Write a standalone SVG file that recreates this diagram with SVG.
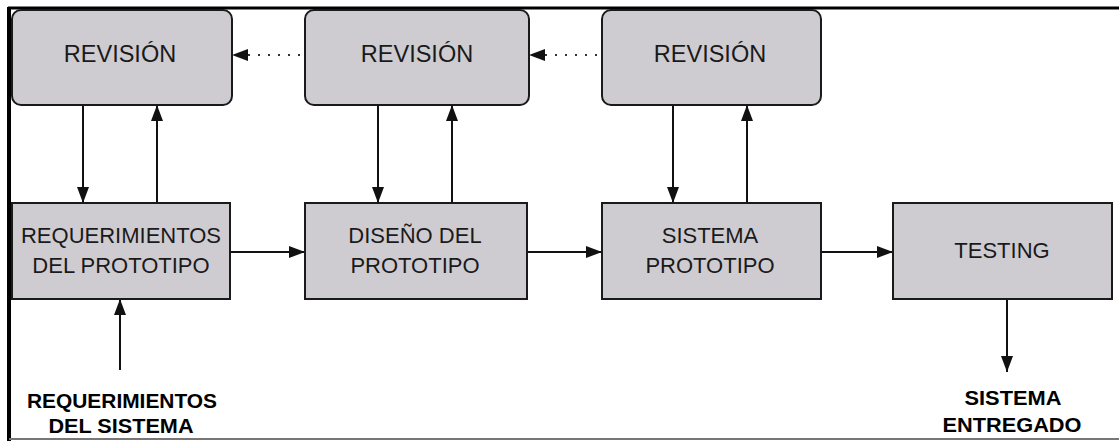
<svg xmlns="http://www.w3.org/2000/svg" width="1119" height="441" viewBox="0 0 1119 441">
<style>
.box{fill:#cfccd1;stroke:#1a1a1a;stroke-width:2}
.t{font-family:"Liberation Sans",Arial,sans-serif;font-size:22px;fill:#1a1a1a;text-anchor:middle}
.r{font-size:23.5px}
.b{font-family:"Liberation Sans",Arial,sans-serif;font-size:21px;font-weight:bold;fill:#000;text-anchor:middle}
.c{stroke:#111;stroke-width:2;fill:none}
.d{stroke:#333;stroke-width:2;fill:none;stroke-dasharray:2 8}
</style>
<defs>
<marker id="ah" viewBox="0 0 16 12" refX="16" refY="6" markerWidth="16" markerHeight="12" markerUnits="userSpaceOnUse" orient="auto">
<path d="M0,0 L16,6 L0,12 z" fill="#111"/>
</marker>
</defs>
<rect width="1119" height="441" fill="#fff"/>
<g id="frame">
<line x1="8" y1="8" x2="1119" y2="8" stroke="#000" stroke-width="3"/>
<line x1="9" y1="7" x2="9" y2="441" stroke="#000" stroke-width="4"/>
<line x1="9" y1="439" x2="1119" y2="439" stroke="#777" stroke-width="2"/>
</g>
<g id="connectors">
<line class="d" x1="300" y1="55" x2="232" y2="55" marker-end="url(#ah)"/>
<line class="d" x1="597" y1="55" x2="529" y2="55" marker-end="url(#ah)"/>
<line class="c" x1="83" y1="105" x2="83" y2="203" marker-end="url(#ah)"/>
<line class="c" x1="157" y1="203" x2="157" y2="105" marker-end="url(#ah)"/>
<line class="c" x1="378" y1="105" x2="378" y2="203" marker-end="url(#ah)"/>
<line class="c" x1="452" y1="203" x2="452" y2="105" marker-end="url(#ah)"/>
<line class="c" x1="673" y1="105" x2="673" y2="203" marker-end="url(#ah)"/>
<line class="c" x1="747" y1="203" x2="747" y2="105" marker-end="url(#ah)"/>
<line class="c" x1="230" y1="252" x2="305" y2="252" marker-end="url(#ah)"/>
<line class="c" x1="527" y1="252" x2="602" y2="252" marker-end="url(#ah)"/>
<line class="c" x1="821" y1="252" x2="893" y2="252" marker-end="url(#ah)"/>
<line class="c" x1="120" y1="370" x2="120" y2="299" marker-end="url(#ah)"/>
<line class="c" x1="1007" y1="299" x2="1007" y2="372" marker-end="url(#ah)"/>
</g>
<g id="rev1"><rect class="box" x="12" y="10" width="220" height="95" rx="9"/><text class="t r" x="120" y="62">REVISIÓN</text></g>
<g id="rev2"><rect class="box" x="305" y="10" width="224" height="95" rx="9"/><text class="t r" x="417" y="62">REVISIÓN</text></g>
<g id="rev3"><rect class="box" x="602" y="10" width="219" height="95" rx="9"/><text class="t r" x="710" y="62">REVISIÓN</text></g>
<g id="req"><rect class="box" x="12" y="203" width="218" height="96"/><text class="t" x="121" y="243">REQUERIMIENTOS</text><text class="t" x="121" y="273">DEL PROTOTIPO</text></g>
<g id="dis"><rect class="box" x="305" y="203" width="222" height="96"/><text class="t" x="415" y="243">DISEÑO DEL</text><text class="t" x="415" y="273">PROTOTIPO</text></g>
<g id="sis"><rect class="box" x="602" y="203" width="219" height="96"/><text class="t" x="710" y="243">SISTEMA</text><text class="t" x="710" y="273">PROTOTIPO</text></g>
<g id="test"><rect class="box" x="893" y="203" width="219" height="96"/><text class="t" x="1002" y="258">TESTING</text></g>
<g id="in"><text class="b" x="122" y="408" textLength="190" lengthAdjust="spacingAndGlyphs">REQUERIMIENTOS</text><text class="b" x="121" y="433" textLength="145" lengthAdjust="spacingAndGlyphs">DEL SISTEMA</text></g>
<g id="out"><text class="b" x="1013" y="405" textLength="97" lengthAdjust="spacingAndGlyphs">SISTEMA</text><text class="b" x="1012" y="432" textLength="139" lengthAdjust="spacingAndGlyphs">ENTREGADO</text></g>
</svg>
